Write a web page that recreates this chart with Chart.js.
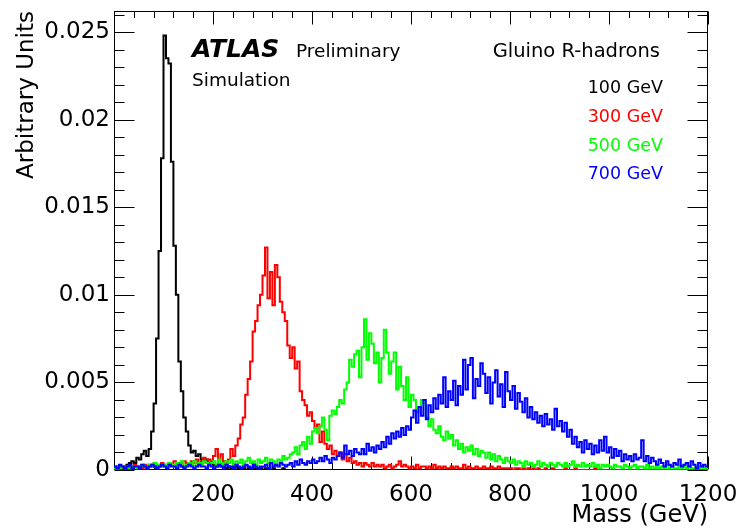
<!DOCTYPE html>
<html>
<head>
<meta charset="utf-8">
<script src="https://cdn.jsdelivr.net/npm/chart.js@4"></script>
<style>
html,body{margin:0;padding:0;background:#fff;}
#wrap{width:748px;height:530px;position:relative;}
</style>
</head>
<body>
<div id="wrap"><canvas id="c" width="748" height="530"></canvas></div>
<script>
// ---- binning (GeV) ----
const massMin = 0;
const massMax = 1200;
const binWidth = 5;

// ---- series: bin contents (arbitrary units), one value per 5 GeV bin from 0 to 1200 GeV ----
const gluino100 = [
 0.0001,0.0002,0.0001,0.0002,0.0002,0.0003,0.0004,0.0005,0.0004,0.0007, // 0-50
 0.0006,0.0009,0.0011,0.0008,0.0012,0.0022,0.0038,0.0075,0.0125,0.0178, // 50-100
 0.0248,0.0235,0.0232,0.0176,0.0128,0.0100,0.0062,0.0045,0.0030,0.0022, // 100-150
 0.0014,0.0010,0.0011,0.0008,0.0009,0.0006,0.0005,0.0006,0.0004,0.0004, // 150-200
 0.0003,0.0002,0.0003,0.0002,0.0002,0.0001,0.0002,0.0001,0.0001,0.0002, // 200-250
 0.0001,0.0001,0.0001,0,0.0001,0.0001,0,0.0001,0,0.0001,               // 250-300
 0,0.0001,0,0,0.0001,0,0,0,0.0001,0,                                      // 300-350
 0,0,0,0,0,0,0,0,0,0, 0,0,0,0,0,0,0,0,0,0,
 0,0,0,0,0,0,0,0,0,0, 0,0,0,0,0,0,0,0,0,0,
 0,0,0,0,0,0,0,0,0,0, 0,0,0,0,0,0,0,0,0,0,
 0,0,0,0,0,0,0,0,0,0, 0,0,0,0,0,0,0,0,0,0,
 0,0,0,0,0,0,0,0,0,0, 0,0,0,0,0,0,0,0,0,0,
 0,0,0,0,0,0,0,0,0,0, 0,0,0,0,0,0,0,0,0,0,
 0,0,0,0,0,0,0,0,0,0, 0,0,0,0,0,0,0,0,0,0,
 0,0,0,0,0,0,0,0,0,0
];
const gluino300 = [
 0.0001,0.0000,0.0001,0.0001,0.0002,0.0001,0.0002,0.0001,0.0003,0.0002, // 0-50
 0.0002,0.0001,0.0003,0.0002,0.0003,0.0002,0.0004,0.0003,0.0002,0.0004, // 50-100
 0.0003,0.0002,0.0004,0.0003,0.0005,0.0003,0.0004,0.0002,0.0005,0.0004, // 100-150
 0.0003,0.0005,0.0004,0.0006,0.0004,0.0005,0.0007,0.0004,0.0006,0.0005, // 150-200
 0.0008,0.0012,0.0006,0.0009,0.0005,0.0004,0.0006,0.0012,0.0008,0.0014, // 200-250
 0.0018,0.0026,0.0030,0.0043,0.0052,0.0062,0.0079,0.0085,0.0094,0.0100, // 250-300
 0.0111,0.0127,0.0098,0.0113,0.0094,0.0117,0.0110,0.0096,0.0090,0.0085, // 300-350
 0.0071,0.0064,0.0070,0.0058,0.0062,0.0045,0.0040,0.0037,0.0031,0.0033, // 350-400
 0.0028,0.0024,0.0026,0.0016,0.0022,0.0015,0.0012,0.0014,0.0009,0.0011, // 400-450
 0.0008,0.0010,0.0006,0.0009,0.0005,0.0007,0.0004,0.0005,0.0003,0.0004, // 450-500
 0.0002,0.0004,0.0003,0.0002,0.0004,0.0002,0.0003,0.0002,0.0003,0.0001, // 500-550
 0.0002,0.0003,0.0001,0.0002,0.0003,0.0005,0.0002,0.0003,0.0002,0.0001, // 550-600
 0.0002,0.0001,0.0003,0.0001,0.0002,0.0002,0.0001,0.0002,0.0001,0.0003, // 600-650
 0.0001,0.0002,0.0001,0.0002,0.0001,0.0001,0.0002,0.0001,0.0002,0.0001, // 650-700
 0.0001,0.0003,0.0001,0.0002,0.0001,0.0001,0.0002,0.0001,0.0001,0.0002, // 700-750
 0.0001,0.0001,0.0002,0.0001,0.0001,0.0002,0.0001,0.0001,0.0001,0.0001, // 750-800
 0.0001,0,0.0001,0.0001,0,0.0001,0,0.0001,0,0.0001,                     // 800-850
 0,0.0001,0,0,0.0001,0,0,0.0001,0,0,                                     // 850-900
 0,0,0.0001,0,0,0,0.0001,0,0,0,                                          // 900-950
 0,0,0,0,0.0001,0,0,0,0,0,                                               // 950-1000
 0,0,0,0,0,0,0,0,0,0, 0,0,0,0,0,0,0,0,0,0,
 0,0,0,0,0,0,0,0,0,0, 0,0,0,0,0,0,0,0,0,0
];
const gluino500 = [
 0.0001,0.0002,0.0001,0.0002,0.0001,0.0002,0.0001,0.0002,0.0002,0.0001, // 0-50
 0.0002,0.0003,0.0002,0.0001,0.0003,0.0002,0.0004,0.0002,0.0003,0.0002, // 50-100
 0.0003,0.0002,0.0004,0.0003,0.0002,0.0004,0.0003,0.0005,0.0002,0.0003, // 100-150
 0.0004,0.0003,0.0005,0.0002,0.0004,0.0003,0.0005,0.0004,0.0003,0.0004, // 150-200
 0.0005,0.0003,0.0006,0.0004,0.0003,0.0005,0.0004,0.0006,0.0003,0.0005, // 200-250
 0.0004,0.0006,0.0003,0.0005,0.0007,0.0004,0.0005,0.0003,0.0006,0.0004, // 250-300
 0.0005,0.0007,0.0004,0.0006,0.0005,0.0003,0.0006,0.0005,0.0008,0.0006, // 300-350
 0.0007,0.0009,0.0010,0.0013,0.0009,0.0014,0.0016,0.0012,0.0019,0.0015, // 350-400
 0.0022,0.0024,0.0021,0.0025,0.0030,0.0023,0.0017,0.0031,0.0034,0.0032, // 400-450
 0.0036,0.0040,0.0038,0.0046,0.0050,0.0063,0.0059,0.0066,0.0068,0.0053, // 450-500
 0.0070,0.0086,0.0063,0.0078,0.0072,0.0061,0.0067,0.0050,0.0064,0.0080, // 500-550
 0.0067,0.0055,0.0062,0.0067,0.0046,0.0059,0.0048,0.0040,0.0053,0.0036, // 550-600
 0.0043,0.0040,0.0033,0.0036,0.0040,0.0038,0.0030,0.0025,0.0029,0.0023, // 600-650
 0.0021,0.0025,0.0019,0.0017,0.0022,0.0018,0.0020,0.0014,0.0017,0.0012, // 650-700
 0.0015,0.0010,0.0013,0.0011,0.0014,0.0009,0.0012,0.0008,0.0011,0.0010, // 700-750
 0.0007,0.0010,0.0006,0.0009,0.0005,0.0008,0.0006,0.0004,0.0007,0.0005, // 750-800
 0.0004,0.0006,0.0003,0.0005,0.0004,0.0002,0.0005,0.0003,0.0004,0.0002, // 800-850
 0.0003,0.0005,0.0002,0.0004,0.0003,0.0002,0.0004,0.0003,0.0002,0.0004, // 850-900
 0.0003,0.0002,0.0004,0.0002,0.0003,0.0005,0.0002,0.0003,0.0002,0.0004, // 900-950
 0.0002,0.0003,0.0002,0.0004,0.0002,0.0003,0.0001,0.0003,0.0002,0.0003, // 950-1000
 0.0002,0.0001,0.0003,0.0002,0.0002,0.0001,0.0003,0.0002,0.0001,0.0002, // 1000-1050
 0.0003,0.0001,0.0002,0.0002,0.0001,0.0003,0.0001,0.0002,0.0001,0.0002, // 1050-1100
 0.0001,0.0002,0.0001,0.0003,0.0001,0.0002,0.0001,0.0001,0.0002,0.0001, // 1100-1150
 0.0002,0.0001,0.0002,0.0001,0.0001,0.0002,0.0001,0.0002,0.0001,0.0001  // 1150-1200
];
const gluino700 = [
 0.0002,0.0001,0.0003,0.0002,0.0001,0.0002,0.0003,0.0001,0.0002,0.0002, // 0-50
 0.0001,0.0003,0.0002,0.0001,0.0002,0.0003,0.0002,0.0001,0.0002,0.0003, // 50-100
 0.0002,0.0001,0.0003,0.0002,0.0002,0.0001,0.0003,0.0002,0.0001,0.0002, // 100-150
 0.0003,0.0002,0.0001,0.0002,0.0003,0.0002,0.0002,0.0001,0.0003,0.0002, // 150-200
 0.0001,0.0002,0.0003,0.0002,0.0001,0.0003,0.0002,0.0002,0.0001,0.0003, // 200-250
 0.0002,0.0001,0.0002,0.0003,0.0002,0.0001,0.0003,0.0002,0.0001,0.0002, // 250-300
 0.0002,0.0003,0.0001,0.0004,0.0002,0.0003,0.0002,0.0004,0.0003,0.0002, // 300-350
 0.0003,0.0004,0.0002,0.0005,0.0003,0.0006,0.0004,0.0003,0.0005,0.0004, // 350-400
 0.0006,0.0004,0.0005,0.0007,0.0005,0.0008,0.0006,0.0004,0.0007,0.0006, // 400-450
 0.0008,0.0010,0.0007,0.0014,0.0009,0.0011,0.0008,0.0012,0.0010,0.0009, // 450-500
 0.0012,0.0009,0.0015,0.0011,0.0013,0.0010,0.0014,0.0012,0.0016,0.0013, // 500-550
 0.0019,0.0015,0.0021,0.0018,0.0022,0.0019,0.0024,0.0020,0.0025,0.0023, // 550-600
 0.0030,0.0034,0.0027,0.0036,0.0031,0.0040,0.0029,0.0037,0.0033,0.0041, // 600-650
 0.0035,0.0043,0.0038,0.0053,0.0036,0.0045,0.0040,0.0051,0.0037,0.0048, // 650-700
 0.0043,0.0063,0.0046,0.0060,0.0064,0.0041,0.0052,0.0048,0.0061,0.0055, // 700-750
 0.0044,0.0053,0.0038,0.0050,0.0057,0.0042,0.0049,0.0036,0.0056,0.0045, // 750-800
 0.0040,0.0048,0.0035,0.0044,0.0039,0.0033,0.0041,0.0030,0.0036,0.0029, // 800-850
 0.0033,0.0027,0.0031,0.0025,0.0032,0.0026,0.0029,0.0023,0.0035,0.0025, // 850-900
 0.0028,0.0022,0.0027,0.0019,0.0023,0.0015,0.0019,0.0013,0.0016,0.0010, // 900-950
 0.0017,0.0012,0.0015,0.0009,0.0014,0.0010,0.0017,0.0011,0.0019,0.0010, // 950-1000
 0.0013,0.0007,0.0012,0.0008,0.0011,0.0005,0.0009,0.0006,0.0008,0.0005, // 1000-1050
 0.0009,0.0006,0.0007,0.0017,0.0005,0.0008,0.0004,0.0007,0.0005,0.0003, // 1050-1100
 0.0006,0.0004,0.0002,0.0005,0.0003,0.0002,0.0004,0.0003,0.0006,0.0002, // 1100-1150
 0.0003,0.0004,0.0002,0.0005,0.0003,0.0001,0.0004,0.0002,0.0003,0.0002  // 1150-1200
];

// ---- labels, colours, ticks ----
const seriesLabels = ['100 GeV', '300 GeV', '500 GeV', '700 GeV'];
const seriesColors = ['#000000', '#ff0000', '#00ff00', '#0000ff'];
const xTickLabels = [200, 400, 600, 800, 1000, 1200];
const xMajorStep = 200, xMinorStep = 40;
const yTickLabels = [0, 0.005, 0.01, 0.015, 0.02, 0.025];
const yMax = 0.0262;
const yMajorStep = 0.005, yMinorStep = 0.001;

const FONT = '"DejaVu Sans", "Liberation Sans", sans-serif';

function histPoints(values) {
  const pts = values.map((v, i) => ({ x: massMin + i * binWidth, y: v }));
  pts.push({ x: massMin + values.length * binWidth, y: values[values.length - 1] });
  return pts;
}

const seriesValues = [gluino100, gluino300, gluino500, gluino700];
const datasets = seriesValues.map((vals, k) => ({
  label: seriesLabels[k],
  data: histPoints(vals),
  borderColor: seriesColors[k],
  backgroundColor: seriesColors[k],
  borderWidth: 2,
  pointRadius: 0,
  fill: false,
  stepped: 'before',
  order: 3 - k
}));

// frame + inward ticks on all four sides
const frameTicks = {
  id: 'frameTicks',
  beforeDatasetsDraw(chart) {
    const { ctx, chartArea: a, scales: { x, y } } = chart;
    ctx.save();
    ctx.strokeStyle = '#000';
    ctx.lineWidth = 1;
    const L = Math.round(a.left) + 0.5, R = Math.round(a.right) - 0.5;
    const T = Math.round(a.top) + 0.5, B = Math.round(a.bottom) - 0.5;
    ctx.beginPath();
    for (let v = massMin; v <= massMax + 1e-9; v += xMinorStep) {
      const px = Math.round(x.getPixelForValue(v)) + 0.5;
      const major = Math.abs(v / xMajorStep - Math.round(v / xMajorStep)) < 1e-6;
      const len = major ? 13 : 6.5;
      ctx.moveTo(px, B); ctx.lineTo(px, B - len);
      ctx.moveTo(px, T); ctx.lineTo(px, T + len);
    }
    for (let v = 0; v <= yMax + 1e-12; v += yMinorStep) {
      const py = Math.round(y.getPixelForValue(v)) + 0.5;
      const major = Math.abs(v / yMajorStep - Math.round(v / yMajorStep)) < 1e-6;
      const len = major ? 20 : 10;
      ctx.moveTo(L, py); ctx.lineTo(L + len, py);
      ctx.moveTo(R, py); ctx.lineTo(R - len, py);
    }
    ctx.stroke();
    ctx.strokeRect(L, T, R - L, B - T);
    ctx.restore();
  }
};

// ATLAS label and coloured legend text
const labelsPlugin = {
  id: 'labelsPlugin',
  afterDraw(chart) {
    const { ctx, chartArea: a } = chart;
    ctx.save();
    ctx.textBaseline = 'alphabetic';
    ctx.fillStyle = '#000';
    ctx.textAlign = 'left';
    ctx.font = 'italic bold 25px ' + FONT;
    ctx.fillText('ATLAS', a.left + 78, a.top + 46);
    ctx.font = '18.5px ' + FONT;
    ctx.fillText('Preliminary', a.left + 182, a.top + 46);
    ctx.fillText('Simulation', a.left + 78, a.top + 75);
    ctx.textAlign = 'right';
    ctx.font = '19.5px ' + FONT;
    ctx.fillText('Gluino R-hadrons', a.right - 48, a.top + 46);
    ctx.font = '17.5px ' + FONT;
    chart.data.datasets.forEach((ds, k) => {
      ctx.fillStyle = ds.borderColor;
      ctx.fillText(ds.label, a.right - 45, a.top + 82 + k * 28.8);
    });
    ctx.restore();
  }
};

new Chart(document.getElementById('c'), {
  type: 'line',
  data: { datasets },
  options: {
    responsive: false,
    animation: false,
    devicePixelRatio: 1,
    layout: { padding: { top: 11, right: 40, left: 0, bottom: 0 } },
    plugins: { legend: { display: false }, tooltip: { enabled: false } },
    scales: {
      x: {
        type: 'linear',
        min: massMin,
        max: massMax,
        afterBuildTicks: s => { s.ticks = xTickLabels.map(v => ({ value: v })); },
        afterFit: s => { s.height = 60; s.paddingLeft = 0; s.paddingRight = 0; },
        grid: { display: false, drawTicks: false },
        border: { display: false },
        ticks: { color: '#000', font: { family: FONT, size: 23 }, padding: 11, maxRotation: 0, autoSkip: false, callback: v => String(v) },
        title: { display: true, text: 'Mass (GeV)', align: 'end', color: '#000', font: { family: FONT, size: 24 }, padding: { top: 0, bottom: 0 } }
      },
      y: {
        type: 'linear',
        min: 0,
        max: yMax,
        afterBuildTicks: s => { s.ticks = yTickLabels.map(v => ({ value: v })); },
        afterFit: s => { s.width = 114; s.paddingTop = 0; s.paddingBottom = 0; },
        grid: { display: false, drawTicks: false },
        border: { display: false },
        ticks: { color: '#000', font: { family: FONT, size: 23 }, padding: 4, callback: v => String(Number(v.toFixed(4))) },
        title: { display: true, text: 'Arbitrary Units', align: 'end', color: '#000', font: { family: FONT, size: 23 }, padding: { top: 13, bottom: 0 } }
      }
    }
  },
  plugins: [frameTicks, labelsPlugin]
});
</script>
</body>
</html>
